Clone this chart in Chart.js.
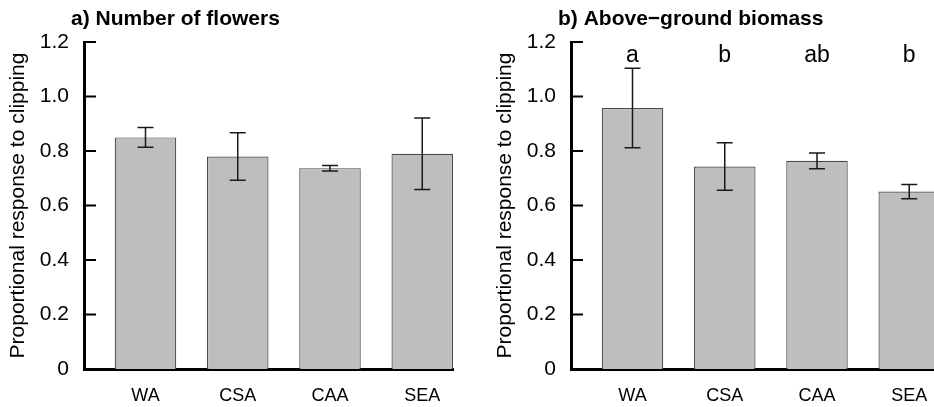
<!DOCTYPE html>
<html>
<head>
<meta charset="utf-8">
<script src="https://cdn.jsdelivr.net/npm/chart.js@4.4.0/dist/chart.umd.min.js"></script>
<style>
  html, body { margin: 0; padding: 0; background: #fff; }
  #wrap { position: relative; width: 934px; height: 407px; overflow: hidden; }
  #wrap canvas { position: absolute; top: 0; }
  #flowersChart { left: 0; }
  #biomassChart { left: 487px; }
</style>
</head>
<body>
<div id="wrap">
  <canvas id="flowersChart" width="488" height="407"></canvas>
  <canvas id="biomassChart" width="488" height="407"></canvas>
</div>
<script>
// Regions along the x axis
const regions = ['WA', 'CSA', 'CAA', 'SEA'];

// a) Number of flowers: mean proportional response and its error
const flowerMeans = [0.85, 0.78, 0.737, 0.79];
const flowerErrors = [0.036, 0.087, 0.01, 0.131];

// b) Above-ground biomass
const biomassMeans = [0.958, 0.743, 0.764, 0.651];
const biomassErrors = [0.146, 0.087, 0.029, 0.026];
const biomassLetters = ['a', 'b', 'ab', 'b'];

// y axis tick values
const yTicks = [0, 0.2, 0.4, 0.6, 0.8, 1.0, 1.2];

const FONT = "'Liberation Sans', Arial, Helvetica, sans-serif";

// bars sit at 1, 2.5, 4, 5.5 on an axis running 0..6 (like barplot with space = 0.5)
function barCenter(i) {
    return 1 + 1.5 * i;
}

// Inward y ticks, error bars, panel title and significance letters
const panelExtras = {
    id: 'panelExtras',
    afterDraw(chart, args, opts) {
        const { ctx, chartArea } = chart;
        const x = chart.scales.x;
        const y = chart.scales.y;
        ctx.save();

        // tick marks pointing into the plot
        ctx.strokeStyle = '#000';
        ctx.lineWidth = 2;
        y.ticks.forEach(t => {
            const py = y.getPixelForValue(t.value);
            ctx.beginPath();
            ctx.moveTo(chartArea.left, py);
            ctx.lineTo(chartArea.left + 12, py);
            ctx.stroke();
        });

        // error bars
        ctx.strokeStyle = '#1a1a1a';
        ctx.lineWidth = 1.5;
        opts.means.forEach((m, i) => {
            const px = x.getPixelForValue(barCenter(i));
            const top = y.getPixelForValue(m + opts.errors[i]);
            const bot = y.getPixelForValue(m - opts.errors[i]);
            ctx.beginPath();
            ctx.moveTo(px, top);
            ctx.lineTo(px, bot);
            ctx.moveTo(px - 8, top);
            ctx.lineTo(px + 8, top);
            ctx.moveTo(px - 8, bot);
            ctx.lineTo(px + 8, bot);
            ctx.stroke();
        });

        // panel title
        ctx.fillStyle = '#000';
        ctx.font = 'bold 21px ' + FONT;
        ctx.textAlign = 'left';
        ctx.textBaseline = 'alphabetic';
        ctx.fillText(opts.title, chartArea.left - 13, 25);

        // letters above the bars
        if (opts.letters) {
            ctx.font = '23px ' + FONT;
            ctx.textAlign = 'center';
            opts.letters.forEach((l, i) => {
                ctx.fillText(l, x.getPixelForValue(barCenter(i)), y.getPixelForValue(1.126));
            });
        }
        ctx.restore();
    }
};

function makePanel(canvasId, title, means, errors, letters) {
    const ctx = document.getElementById(canvasId).getContext('2d');
    return new Chart(ctx, {
        type: 'bar',
        data: {
            datasets: [{
                data: means.map((m, i) => ({ x: barCenter(i), y: m })),
                backgroundColor: '#bebebe',
                borderColor: '#4a4a4a',
                borderWidth: 1.2,
                barPercentage: 2 / 3,
                categoryPercentage: 1
            }]
        },
        options: {
            responsive: false,
            animation: false,
            devicePixelRatio: 1,
            layout: { padding: { top: 42, right: 35, bottom: 0, left: 0 } },
            plugins: {
                legend: { display: false },
                tooltip: { enabled: false },
                panelExtras: { title, means, errors, letters }
            },
            scales: {
                x: {
                    type: 'linear',
                    min: 0,
                    max: 6,
                    offset: false,
                    z: 1,
                    grid: { display: false, drawTicks: false },
                    border: { display: true, color: '#000', width: 3 },
                    afterBuildTicks: s => { s.ticks = regions.map((r, i) => ({ value: barCenter(i) })); },
                    afterFit: s => { s.height = 38; },
                    ticks: {
                        callback: (v, i) => regions[i],
                        color: '#000',
                        font: { family: FONT, size: 18 },
                        padding: 16,
                        maxRotation: 0,
                        autoSkip: false
                    }
                },
                y: {
                    min: 0,
                    max: 1.2,
                    grid: { display: false, drawTicks: false },
                    border: { display: true, color: '#000', width: 3 },
                    afterBuildTicks: s => { s.ticks = yTicks.map(v => ({ value: v })); },
                    afterFit: s => { s.width = 84; },
                    ticks: {
                        callback: v => v === 0 ? '0' : v.toFixed(1),
                        color: '#000',
                        font: { family: FONT, size: 21 },
                        padding: 15
                    },
                    title: {
                        display: true,
                        text: 'Proportional response to clipping',
                        color: '#000',
                        font: { family: FONT, size: 21 },
                        padding: { top: 6, bottom: 0 }
                    }
                }
            }
        },
        plugins: [panelExtras]
    });
}

makePanel('flowersChart', 'a) Number of flowers', flowerMeans, flowerErrors, null);
makePanel('biomassChart', 'b) Above\u2212ground biomass', biomassMeans, biomassErrors, biomassLetters);
</script>
</body>
</html>
